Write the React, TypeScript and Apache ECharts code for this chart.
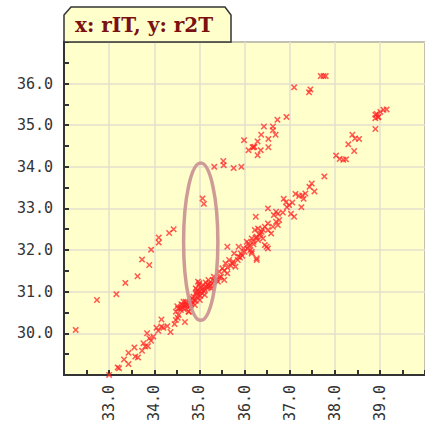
import React, { useEffect, useRef } from "react";
import * as echarts from "echarts";

// x: rIT, y: r2T
const upperBand: number[][] = [
  [32.26, 30.08], [32.73, 30.8], [33.16, 30.94], [33.36, 31.21], [33.63, 31.37],
  [33.73, 31.77], [33.89, 31.64], [33.93, 32.01], [34.1, 32.3], [34.1, 32.18],
  [34.33, 32.41], [34.43, 32.5], [35.07, 33.24], [35.1, 33.11], [35.33, 34.0],
  [35.53, 34.14], [35.54, 34.04], [35.76, 33.97], [35.93, 34.0], [35.99, 34.64],
  [36.09, 34.4], [36.18, 34.47], [36.2, 34.47], [36.22, 34.48], [36.29, 34.61],
  [36.29, 34.28], [36.36, 34.4], [36.37, 34.77], [36.43, 34.97], [36.53, 34.67],
  [36.53, 34.47], [36.63, 34.97], [36.63, 34.88], [36.69, 34.77], [36.73, 35.13],
  [36.93, 35.2], [37.1, 35.91], [37.43, 35.79], [37.46, 35.86], [37.69, 36.18],
  [37.75, 36.18], [37.8, 36.18], [38.03, 34.27], [38.11, 34.19], [38.19, 34.17],
  [38.25, 34.18], [38.3, 34.54], [38.39, 34.77], [38.43, 34.38], [38.45, 34.68],
  [38.54, 34.67], [38.9, 34.91], [38.9, 35.17], [38.96, 35.19], [38.97, 35.2],
  [38.93, 35.27], [39.01, 35.32], [39.08, 35.37], [39.15, 35.38], [38.9, 35.25],
];

const lowerBand: number[][] = [
  [33.0, 29.0], [33.19, 29.18], [33.22, 29.16], [33.33, 29.37], [33.43, 29.26],
  [33.43, 29.53], [33.56, 29.66], [33.58, 29.44], [33.64, 29.42], [33.73, 29.58],
  [33.76, 29.76], [33.84, 30.0], [33.86, 29.69], [33.8, 29.68], [33.93, 29.82],
  [33.98, 29.92], [33.89, 29.88], [34.05, 30.13], [34.09, 30.06], [34.16, 30.33],
  [34.16, 30.16], [34.2, 30.13], [34.29, 30.17], [34.36, 30.03], [34.45, 30.22],
  [34.48, 30.32], [34.52, 30.37], [34.68, 30.27], [34.48, 30.52], [34.53, 30.6],
  [34.59, 30.56], [34.51, 30.65], [34.63, 30.68], [34.7, 30.76], [34.66, 30.58],
  [34.77, 30.52], [34.84, 30.84], [34.92, 30.96], [34.95, 31.04], [34.99, 31.16],
  [34.97, 31.24], [34.65, 30.76], [34.72, 30.68], [34.58, 30.6], [34.76, 30.52],
  [34.54, 30.44], [34.79, 30.72], [34.9, 30.68], [34.87, 30.88], [35.01, 30.8],
  [34.94, 31.0], [34.97, 30.92], [35.12, 30.92], [35.05, 31.04], [35.08, 31.16],
  [35.15, 31.12], [35.26, 31.08], [35.22, 31.2], [35.3, 31.28], [35.41, 31.24],
  [35.55, 31.28], [35.48, 31.36], [35.44, 31.48], [35.62, 31.44], [35.51, 31.56],
  [35.8, 31.6], [35.58, 31.68], [35.73, 31.68], [35.66, 31.76], [36.27, 31.76],
  [35.77, 31.92], [35.92, 31.92], [36.16, 31.96], [35.98, 32.04], [35.87, 32.08],
  [35.62, 32.08], [36.13, 32.0], [36.16, 31.92], [35.87, 31.84], [36.27, 31.8],
  [36.09, 32.16], [36.05, 32.2], [36.2, 32.2], [36.3, 32.24], [36.16, 32.28],
  [36.41, 32.28], [36.27, 32.32], [36.34, 32.36], [36.59, 32.4], [36.23, 32.48],
  [36.38, 32.44], [36.3, 32.52], [36.52, 32.48], [36.45, 32.56], [36.63, 32.56],
  [36.74, 32.6], [36.52, 32.64], [36.7, 32.68], [36.77, 32.72], [36.25, 32.8],
  [37.1, 32.8], [37.03, 32.87], [36.65, 32.84], [36.74, 32.87], [36.85, 32.9],
  [36.7, 32.92], [36.52, 33.0], [36.94, 33.03], [37.26, 33.03], [36.99, 33.08],
  [37.06, 33.14], [36.92, 33.15], [36.87, 33.23], [37.31, 33.23], [37.21, 33.3],
  [37.13, 33.35], [37.28, 33.31], [37.35, 33.36], [37.55, 33.41], [37.44, 33.52],
  [37.49, 33.6], [37.77, 33.77], [36.45, 32.12], [36.49, 32.08], [36.52, 32.04],
  [34.62, 30.62], [34.68, 30.66], [34.74, 30.62], [34.8, 30.66], [34.85, 30.74],
  [34.92, 30.78], [34.96, 30.86], [35.02, 30.9], [35.06, 30.96], [35.0, 31.0],
  [35.1, 31.02], [35.04, 31.1], [35.12, 31.06], [35.18, 31.16], [35.2, 31.1],
  [35.24, 31.14], [35.28, 31.2], [35.34, 31.26], [35.38, 31.3], [35.45, 31.34],
  [34.88, 30.8], [34.82, 30.7], [34.71, 30.72], [34.6, 30.7], [35.14, 31.22],
  [35.0, 31.2], [34.92, 31.08], [35.2, 31.28], [35.32, 31.36], [35.55, 31.5],
  [35.62, 31.58], [35.7, 31.62], [35.75, 31.72], [35.85, 31.76], [35.9, 31.82],
  [35.95, 31.86], [36.0, 31.96], [36.06, 32.04], [36.1, 32.1], [36.2, 32.14],
  [36.25, 32.3], [36.35, 32.4], [36.4, 32.5],
];

const titleText = "x: rIT, y: r2T";
const xRange = [32, 40];
const yRange = [29, 37];
// highlighted region (center x, center y, half-width, half-height) in data units
const ellipseData = [35.03, 32.2, 0.38, 1.89];

const crossSymbol =
  "path://M0,1L1,0L3,2L5,0L6,1L4,3L6,5L5,6L3,4L1,6L0,5L2,3Z";

export default function App() {
  const ref = useRef<HTMLDivElement>(null);
  useEffect(() => {
    document.body.style.margin = "0";
    const chart = echarts.init(ref.current!, null, { renderer: "svg" });
    const points = upperBand.concat(lowerBand);
    const fmt = (v: number) => v.toFixed(1);
    chart.setOption({
      animation: false,
      grid: {
        left: 64,
        top: 42,
        right: -10,
        bottom: 49,
        show: true,
        backgroundColor: "#FFFFCC",
        borderColor: "#333333",
        borderWidth: 1.5,
      },
      xAxis: {
        type: "value",
        min: xRange[0],
        max: xRange[1],
        interval: 1,
        axisLine: { show: true, lineStyle: { color: "#333333", width: 2 } },
        axisTick: { show: true, inside: true, length: 5, lineStyle: { color: "#333333", width: 2 } },
        minorTick: { show: true, splitNumber: 2, length: 5, lineStyle: { color: "#333333", width: 2 } },
        splitLine: { show: true, lineStyle: { color: "#E3DFCC", width: 1.5 } },
        axisLabel: {
          rotate: 90,
          margin: 10,
          showMinLabel: false,
          showMaxLabel: false,
          formatter: fmt,
          color: "#333333",
          fontFamily: "DejaVu Sans Mono",
          fontSize: 15,
        },
      },
      yAxis: {
        type: "value",
        min: yRange[0],
        max: yRange[1],
        interval: 1,
        axisLine: { show: true, lineStyle: { color: "#333333", width: 2 } },
        axisTick: { show: true, inside: true, length: 5, lineStyle: { color: "#333333", width: 2 } },
        minorTick: { show: true, splitNumber: 2, length: 5, lineStyle: { color: "#333333", width: 2 } },
        splitLine: { show: true, lineStyle: { color: "#E3DFCC", width: 1.5 } },
        axisLabel: {
          margin: 11,
          showMinLabel: false,
          showMaxLabel: false,
          formatter: fmt,
          color: "#333333",
          fontFamily: "DejaVu Sans Mono",
          fontSize: 15,
        },
      },
      series: [
        {
          type: "scatter",
          data: points,
          symbol: crossSymbol,
          symbolSize: 6.5,
          itemStyle: { color: "#FF2424", opacity: 0.75 },
          z: 3,
        },
      ],
    });

    const c = chart.convertToPixel({ gridIndex: 0 }, [ellipseData[0], ellipseData[1]]) as number[];
    const e = chart.convertToPixel({ gridIndex: 0 }, [
      ellipseData[0] + ellipseData[2],
      ellipseData[1] + ellipseData[3],
    ]) as number[];
    chart.setOption({
      graphic: [
        {
          type: "polygon",
          shape: { points: [[64, 42], [64, 15], [71, 7], [225, 7], [231, 15], [231, 42]] },
          style: { fill: "#FFFFCC", stroke: "#333333", lineWidth: 1.5 },
          z: 10,
        },
        {
          type: "text",
          x: 75,
          y: 25,
          style: {
            text: titleText,
            fill: "#7A1010",
            font: "bold 20px 'DejaVu Serif'",
            textVerticalAlign: "middle",
          },
          z: 11,
        },
        {
          type: "ellipse",
          shape: { cx: c[0], cy: c[1], rx: Math.abs(e[0] - c[0]), ry: Math.abs(c[1] - e[1]) },
          style: { fill: "none", stroke: "#C99090", lineWidth: 3.5, opacity: 0.9 },
          z: 20,
        },
      ],
    });
    return () => chart.dispose();
  }, []);
  return <div ref={ref} style={{ width: 425, height: 424 }} />;
}
